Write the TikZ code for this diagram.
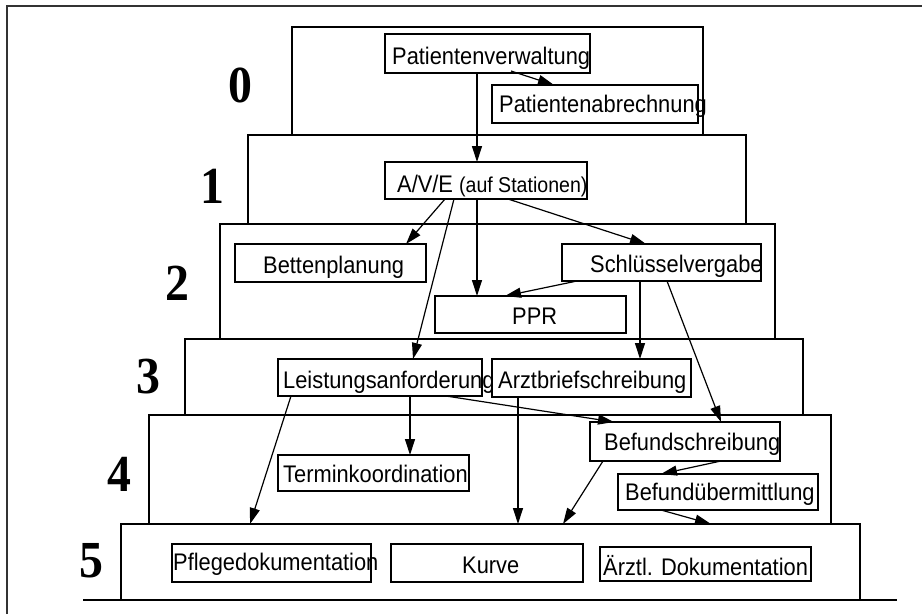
\documentclass[tikz,border=0pt]{standalone}
\usepackage{fontspec}
\newfontfamily\labfont[FakeStretch=0.91]{Liberation Sans}
\newfontfamily\levfont[FakeStretch=0.92]{Liberation Serif}
\usetikzlibrary{arrows.meta}
\begin{document}
\begin{tikzpicture}[x=1pt,y=-1pt,
  layer/.style={draw,line width=2.7pt,anchor=north west,inner sep=0pt,outer sep=0pt},
  box/.style={draw,line width=2.7pt,anchor=north west,inner sep=0pt,outer sep=0pt},
  lbl/.style={anchor=base west,inner sep=0pt,font=\labfont\fontsize{24}{24}\selectfont},
  lev/.style={anchor=base,inner sep=0pt,font=\levfont\bfseries\fontsize{52}{52}\selectfont},
  flow/.style={line width=1.2pt,-{Triangle[length=16pt,width=10pt]}},
  frame/.style={line width=2pt,draw=black!80}]
\useasboundingbox (0,0) rectangle (922,614);

% outer frame and base line
\coordinate (fb) at (7,614);
\coordinate (fc) at (7,6);
\coordinate (fr) at (922,6);
\draw[frame] (fb) -- (fc) -- (fr);
\coordinate (bl) at (83,600);
\coordinate (br) at (897,600);
\draw[line width=2.7pt] (bl) -- (br);

% stacked layers 0..5
\node[layer,minimum width=411pt,minimum height=108pt] (L0) at (292,27) {};
\node[layer,minimum width=498pt,minimum height=89pt]  (L1) at (248,135) {};
\node[layer,minimum width=555pt,minimum height=115pt] (L2) at (220,224) {};
\node[layer,minimum width=618pt,minimum height=76pt]  (L3) at (185,339) {};
\node[layer,minimum width=682pt,minimum height=109pt] (L4) at (149,415) {};
\node[layer,minimum width=739pt,minimum height=76pt]  (L5) at (121,524) {};

% level numbers
\node[lev] (n0) at (240,102) {0};
\node[lev] (n1) at (212,203) {1};
\node[lev] (n2) at (177,300) {2};
\node[lev] (n3) at (148,393) {3};
\node[lev] (n4) at (119,491) {4};
\node[lev] (n5) at (91,577) {5};

% module boxes
\node[box,minimum width=205pt,minimum height=39pt] (pv) at (385,34) {};
\node[box,minimum width=206pt,minimum height=38pt] (pa) at (492,85) {};
\node[box,minimum width=202pt,minimum height=37pt] (ave) at (385,162) {};
\node[box,minimum width=191pt,minimum height=38pt] (bett) at (235,244) {};
\node[box,minimum width=199pt,minimum height=37pt] (schl) at (562,244) {};
\node[box,minimum width=191pt,minimum height=37pt] (ppr) at (435,296) {};
\node[box,minimum width=204pt,minimum height=37pt] (leist) at (278,359) {};
\node[box,minimum width=199pt,minimum height=38pt] (arzt) at (492,359) {};
\node[box,minimum width=190pt,minimum height=39pt] (befs) at (590,422) {};
\node[box,minimum width=191pt,minimum height=36pt] (term) at (278,455) {};
\node[box,minimum width=200pt,minimum height=36pt] (befu) at (618,474) {};
\node[box,minimum width=199pt,minimum height=38pt] (pfl) at (172,544) {};
\node[box,minimum width=192pt,minimum height=38pt] (kurve) at (391,544) {};
\node[box,minimum width=211pt,minimum height=34pt] (aerztl) at (600,547) {};

% module names
\node[lbl] (tpv) at (392,64) {Patientenverwaltung};
\node[lbl] (tpa) at (499,112) {Patientenabrechnung};
\node[lbl] (tave) at (397,192) {A/V/E {\fontsize{21.5}{21.5}\selectfont(auf Stationen)}};
\node[lbl] (tbett) at (263,273) {Bettenplanung};
\node[lbl] (tschl) at (590,272) {Schlüsselvergabe};
\node[lbl] (tppr) at (512,324) {PPR};
\node[lbl] (tleist) at (283,388) {Leistungsanforderung};
\node[lbl] (tarzt) at (498,388) {Arztbriefschreibung};
\node[lbl] (tbefs) at (604,450) {Befundschreibung};
\node[lbl] (tterm) at (283,482) {Terminkoordination};
\node[lbl] (tbefu) at (625,500) {Befundübermittlung};
\node[lbl] (tpfl) at (173,570) {Pflegedokumentation};
\node[lbl] (tkurve) at (462,573) {Kurve};
\node[lbl] (taerztl) at (603,575) {Ärztl. Dokumentation};

% data flows
\draw[flow] ([xshift=126pt,yshift=2pt]pv.south west) -- ([xshift=62pt]pa.north west);
\draw[flow] ([xshift=92pt]pv.south west) -- ([xshift=92pt]ave.north west);
\draw[flow] ([xshift=60pt]ave.south west) -- ([xshift=171pt]bett.north west);
\draw[flow] ([xshift=69pt]ave.south west) -- ([xshift=135pt]leist.north west);
\draw[flow] ([xshift=92pt]ave.south west) -- ([xshift=42pt]ppr.north west);
\draw[flow] ([xshift=123pt]ave.south west) -- ([xshift=84pt]schl.north west);
\draw[flow] ([xshift=15pt]schl.south west) -- ([xshift=70pt]ppr.north west);
\draw[flow] ([xshift=78pt]schl.south west) -- ([xshift=148pt]arzt.north west);
\draw[flow] ([xshift=105pt]schl.south west) -- ([xshift=131pt]befs.north west);
\draw[flow] ([xshift=168pt]leist.south west) -- ([xshift=24pt]befs.north west);
\draw[flow] ([xshift=132pt]leist.south west) -- ([xshift=132pt]term.north west);
\draw[flow] ([xshift=13pt]leist.south west) -- ([xshift=129pt]L5.north west);
\draw[flow] ([xshift=26pt]arzt.south west) -- ([xshift=397pt]L5.north west);
\draw[flow] ([xshift=13pt]befs.south west) -- ([xshift=442pt]L5.north west);
\draw[flow] ([xshift=131pt]befs.south west) -- ([xshift=43pt]befu.north west);
\draw[flow] ([xshift=43pt]befu.south west) -- ([xshift=590pt]L5.north west);
\end{tikzpicture}
\end{document}
